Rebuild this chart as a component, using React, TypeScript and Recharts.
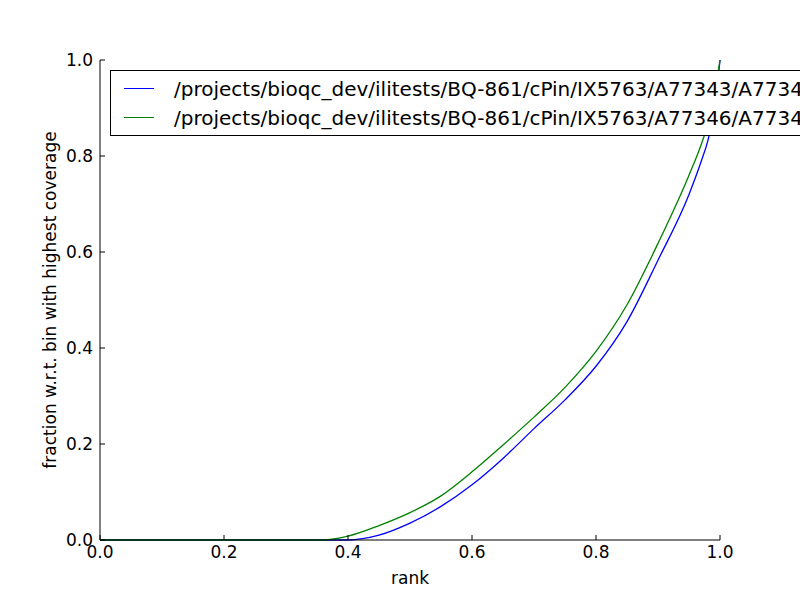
import React from "react";
import { LineChart, Line, XAxis, YAxis } from "recharts";

// x positions (rank) shared by both curves
const rank = [0, 0.1, 0.2, 0.3, 0.35, 0.36, 0.4, 0.45, 0.5, 0.55, 0.6, 0.65, 0.7, 0.75, 0.8, 0.85, 0.9, 0.95, 0.97, 0.98, 0.99, 1.0];
const fracA77343 = [0, 0, 0, 0, 0, 0, 0, 0.01, 0.035, 0.07, 0.115, 0.17, 0.232, 0.292, 0.362, 0.455, 0.583, 0.72, 0.79, 0.83, 0.89, 1.0];
const fracA77346 = [0, 0, 0, 0, 0, 0, 0.008, 0.03, 0.057, 0.092, 0.142, 0.198, 0.256, 0.318, 0.393, 0.49, 0.618, 0.76, 0.825, 0.865, 0.92, 1.0];
const ticks = [0, 0.2, 0.4, 0.6, 0.8, 1.0];
const seriesLabels = [
  "/projects/bioqc_dev/ilitests/BQ-861/cPin/IX5763/A77343/A77343",
  "/projects/bioqc_dev/ilitests/BQ-861/cPin/IX5763/A77346/A77346",
];
const seriesColors = ["#0000ff", "#008000"];

const data = rank.map((r, i) => ({ rank: r, a: fracA77343[i], b: fracA77346[i] }));

const FONT = "'DejaVu Sans', sans-serif";
const tickStyle = { fontSize: 17, fill: "#000", fontFamily: FONT };
const fmt = (v: number) => v.toFixed(1);
const blank = () => "";

export default function App() {
  return (
    <div style={{ position: "fixed", left: 0, top: 0, width: 800, height: 600, overflow: "hidden", background: "#fff", fontFamily: FONT }}>
      <LineChart width={800} height={600} data={data} margin={{ top: 60, right: 80, bottom: 30, left: 40 }}>
        <XAxis
          dataKey="rank" type="number" domain={[0, 1]} ticks={ticks} tickFormatter={fmt}
          height={30} stroke="#000" tickSize={-5} tickMargin={11} tick={tickStyle}
          label={{ value: "rank", position: "bottom", offset: 2, style: { fontSize: 17, fill: "#000", fontFamily: FONT } }}
        />
        <XAxis
          xAxisId="top" orientation="top" dataKey="rank" type="number" domain={[0, 1]} ticks={ticks}
          tickFormatter={blank} height={0} stroke="#000" tickSize={-5}
        />
        <YAxis
          type="number" domain={[0, 1]} ticks={ticks} tickFormatter={fmt}
          width={60} stroke="#000" tickSize={-5} tickMargin={12} tick={tickStyle}
        />
        <YAxis
          yAxisId="right" orientation="right" type="number" domain={[0, 1]} ticks={ticks}
          tickFormatter={blank} width={0} stroke="#000" tickSize={-5}
        />
        <Line type="monotone" dataKey="a" stroke={seriesColors[0]} strokeWidth={1.3} dot={false} isAnimationActive={false} />
        <Line type="monotone" dataKey="b" stroke={seriesColors[1]} strokeWidth={1.3} dot={false} isAnimationActive={false} />
      </LineChart>

      <div
        style={{
          position: "absolute", left: 50, top: 300, transform: "translate(-50%, -50%) rotate(-90deg)",
          fontSize: 17, whiteSpace: "nowrap", color: "#000",
        }}
      >
        fraction w.r.t. bin with highest coverage
      </div>

      <div
        style={{
          position: "absolute", left: 110, top: 70, width: 760, height: 66, boxSizing: "border-box",
          border: "1px solid #000", background: "#fff", paddingTop: 3,
        }}
      >
        {seriesLabels.map((label, i) => (
          <div key={label} style={{ display: "flex", alignItems: "center", height: 29 }}>
            <span style={{ marginLeft: 13, width: 30, borderTop: `1.3px solid ${seriesColors[i]}` }} />
            <span style={{ marginLeft: 20, fontSize: 20, whiteSpace: "nowrap", color: "#000" }}>{label}</span>
          </div>
        ))}
      </div>
    </div>
  );
}
